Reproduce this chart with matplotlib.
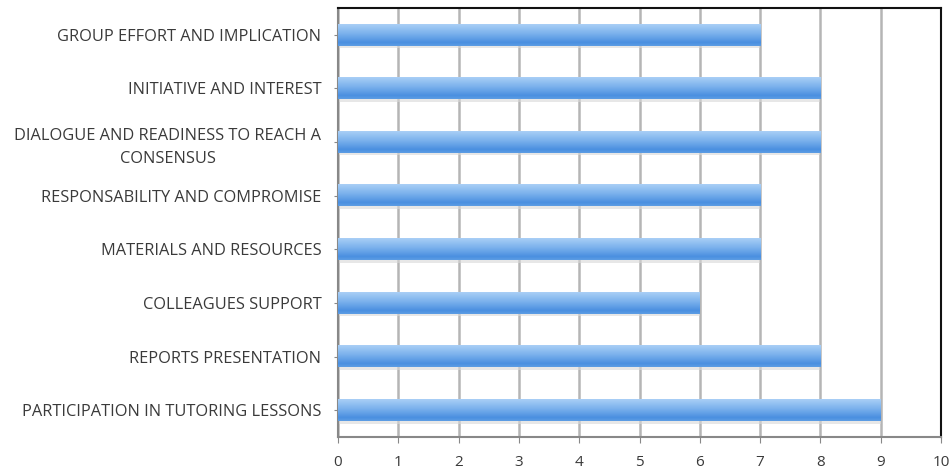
import numpy as np
import matplotlib
matplotlib.use("Agg")
import matplotlib.pyplot as plt
from matplotlib.colors import LinearSegmentedColormap

categories = [
    "PARTICIPATION IN TUTORING LESSONS",
    "REPORTS PRESENTATION",
    "COLLEAGUES SUPPORT",
    "MATERIALS AND RESOURCES",
    "RESPONSABILITY AND COMPROMISE",
    "DIALOGUE AND READINESS TO REACH A\nCONSENSUS",
    "INITIATIVE AND INTEREST",
    "GROUP EFFORT AND IMPLICATION",
]
values = [9, 8, 6, 7, 7, 8, 8, 7]
xticks = list(range(0, 11))

plt.rcParams['font.family'] = ['Open Sans', 'DejaVu Sans']

fig = plt.figure(figsize=(9.53, 4.73), dpi=100)
ax = fig.add_axes([0.3547, 0.0761, 0.6327, 0.9069])

n = len(categories)
bar_h = 0.40
ax.set_xlim(0, 10)
ax.set_ylim(-0.5, n - 0.5)

# vertical gradient for the bars: light on top, deeper blue below
grad_cmap = LinearSegmentedColormap.from_list(
    "barfill", [(0.0, "#a9cff6"), (0.45, "#79b0ec"), (0.85, "#4a8fe0"), (1.0, "#5d9de4")])
grad = np.linspace(0, 1, 64).reshape(-1, 1)

for i, v in enumerate(values):
    # soft shadow under each bar
    ax.add_patch(plt.Rectangle((0, i - bar_h / 2 - 0.05), v, 0.06,
                               facecolor="#d8d8d8", edgecolor="none", alpha=0.6, zorder=2))
    ax.imshow(grad, cmap=grad_cmap, aspect="auto", interpolation="bilinear",
              extent=(0, v, i - bar_h / 2, i + bar_h / 2), origin="upper", zorder=3)

ax.set_xticks(xticks)
ax.set_xticklabels([str(t) for t in xticks], fontsize=11, color="#3a3a3a")
ax.set_yticks(range(n))
labels = ax.set_yticklabels(categories, fontsize=11.8, color="#3a3a3a",
                            linespacing=1.55)
for lab in labels:
    lab.set_multialignment("center")
ax.tick_params(axis="y", length=3, color="#888888", pad=9)
ax.tick_params(axis="x", length=4, color="#888888", pad=9)

ax.grid(axis="x", color="#b5b5b5", linewidth=1.8, zorder=1)
ax.set_axisbelow(True)

ax.spines["top"].set_color("#111111")
ax.spines["right"].set_color("#111111")
ax.spines["left"].set_color("#888888")
ax.spines["bottom"].set_color("#888888")
for s in ax.spines.values():
    s.set_linewidth(1.5)

fig.savefig("out.png", dpi=100, facecolor="white")
